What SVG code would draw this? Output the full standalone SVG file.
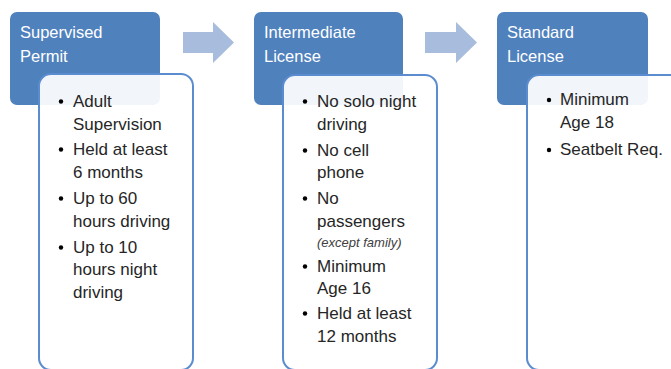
<svg xmlns="http://www.w3.org/2000/svg" width="671" height="369" viewBox="0 0 671 369">
  <style>
    .head { fill: #4f81bd; }
    .card { fill: #ffffff; fill-opacity: 0.93; stroke: #5b8cd0; stroke-width: 2; }
    .arrow { fill: #a8bcdd; }
    .title { font-family: "Liberation Sans", Arial, sans-serif; font-size: 16.5px; fill: #ffffff; }
    .item { font-family: "Liberation Sans", Arial, sans-serif; font-size: 17px; fill: #262626; }
    .note { font-family: "Liberation Sans", Arial, sans-serif; font-size: 13px; font-style: italic; fill: #404040; }
    .dot { fill: #000000; }
  </style>
  <rect width="671" height="369" fill="#ffffff"/>

  <!-- flow arrows between stages -->
  <g id="connectors">
    <polygon class="arrow" points="183,32 213,32 213,22 234,42.5 213,63 213,53 183,53"/>
    <polygon class="arrow" points="425,32 456,32 456,22 477,42.5 456,63 456,53 425,53"/>
  </g>

  <!-- stage 1 -->
  <g id="supervised-permit">
    <rect class="head" x="10" y="12" width="150" height="93" rx="7"/>
    <text class="title" x="20" y="38">Supervised</text>
    <text class="title" x="20" y="62">Permit</text>
    <rect class="card" x="39" y="74" width="154" height="296" rx="12"/>
    <circle class="dot" cx="61" cy="101.5" r="2.2"/>
    <text class="item" x="73" y="107">Adult</text>
    <text class="item" x="73" y="130">Supervision</text>
    <circle class="dot" cx="61" cy="149.5" r="2.2"/>
    <text class="item" x="73" y="155">Held at least</text>
    <text class="item" x="73" y="178">6 months</text>
    <circle class="dot" cx="61" cy="198.5" r="2.2"/>
    <text class="item" x="73" y="204">Up to 60</text>
    <text class="item" x="73" y="227">hours driving</text>
    <circle class="dot" cx="61" cy="247.5" r="2.2"/>
    <text class="item" x="73" y="253">Up to 10</text>
    <text class="item" x="73" y="275">hours night</text>
    <text class="item" x="73" y="298">driving</text>
  </g>

  <!-- stage 2 -->
  <g id="intermediate-license">
    <rect class="head" x="254" y="12" width="149" height="93" rx="7"/>
    <text class="title" x="264" y="38">Intermediate</text>
    <text class="title" x="264" y="62">License</text>
    <rect class="card" x="283" y="75" width="154" height="295" rx="12"/>
    <circle class="dot" cx="305" cy="101.5" r="2.2"/>
    <text class="item" x="317" y="107">No solo night</text>
    <text class="item" x="317" y="130">driving</text>
    <circle class="dot" cx="305" cy="150.5" r="2.2"/>
    <text class="item" x="317" y="156">No cell</text>
    <text class="item" x="317" y="178">phone</text>
    <circle class="dot" cx="305" cy="198.5" r="2.2"/>
    <text class="item" x="317" y="204">No</text>
    <text class="item" x="317" y="227">passengers</text>
    <text class="note" x="317" y="247">(except family)</text>
    <circle class="dot" cx="305" cy="266.5" r="2.2"/>
    <text class="item" x="317" y="272">Minimum</text>
    <text class="item" x="317" y="294">Age 16</text>
    <circle class="dot" cx="305" cy="313.5" r="2.2"/>
    <text class="item" x="317" y="319">Held at least</text>
    <text class="item" x="317" y="342">12 months</text>
  </g>

  <!-- stage 3 -->
  <g id="standard-license">
    <rect class="head" x="497" y="12" width="151" height="93" rx="7"/>
    <text class="title" x="507" y="38">Standard</text>
    <text class="title" x="507" y="62">License</text>
    <rect class="card" x="527" y="75" width="170" height="295" rx="12"/>
    <circle class="dot" cx="549" cy="100" r="2.2"/>
    <text class="item" x="560" y="105">Minimum</text>
    <text class="item" x="560" y="128">Age 18</text>
    <circle class="dot" cx="549" cy="150" r="2.2"/>
    <text class="item" x="560" y="155">Seatbelt Req.</text>
  </g>
</svg>
